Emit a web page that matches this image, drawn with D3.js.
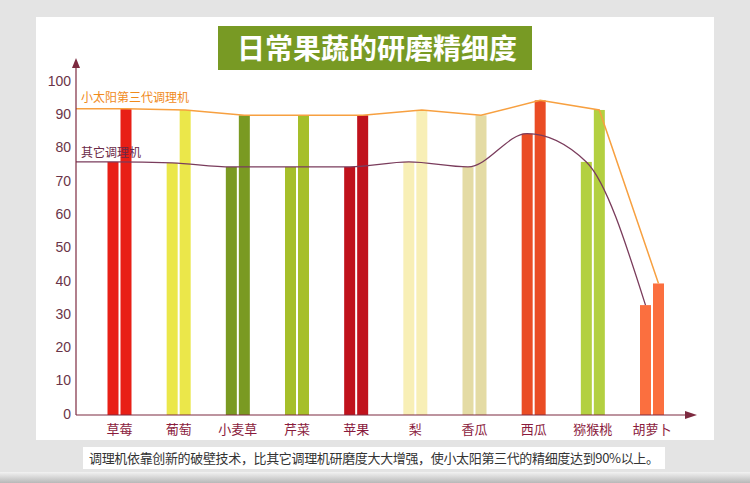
<!DOCTYPE html>
<html>
<head>
<meta charset="utf-8">
<script src="https://cdn.jsdelivr.net/npm/d3@7"></script>
<style>
  body { margin: 0; background: #e4e4e4; }
  svg { display: block; }
</style>
</head>
<body>
<svg id="chart" width="750" height="483"></svg>
<script>
// data
const categories = ["草莓", "葡萄", "小麦草", "芹菜", "苹果", "梨", "香瓜", "西瓜", "猕猴桃", "胡萝卜"];
const otherValues = [76, 75.7, 74.5, 74.5, 74.5, 76, 74.5, 84.5, 76, 33];
const sunValues = [92, 91.6, 90, 90, 90, 91.6, 90, 94.5, 91.6, 39.5];
const barColors = ["#e81f16", "#ebe74a", "#7a9a22", "#a6bf2a", "#c0121c", "#f8efb6", "#e4dba4", "#ea4c24", "#b3d041", "#fb6f3f"];
const yTicks = [0, 10, 20, 30, 40, 50, 60, 70, 80, 90, 100];
const title = "日常果蔬的研磨精细度";
const sunLabel = "小太阳第三代调理机";
const otherLabel = "其它调理机";
const caption = "调理机依靠创新的破壁技术，比其它调理机研磨度大大增强，使小太阳第三代的精细度达到90%以上。";

const cjk = "'Noto Sans CJK SC', 'Noto Sans', sans-serif";
const axisColor = "#7d2a40";
const orange = "#f7a040";
const purple = "#7a3c5c";

let svg = d3.select("#chart");

// bottom strip
let defs = svg.append("defs");
let grad = defs.append("linearGradient").attr("id", "strip").attr("x1", 0).attr("x2", 0).attr("y1", 0).attr("y2", 1);
grad.append("stop").attr("offset", "0%").attr("stop-color", "#f2f2f2");
grad.append("stop").attr("offset", "100%").attr("stop-color", "#b8b8b8");
svg.append("rect").attr("x", 0).attr("y", 472).attr("width", 750).attr("height", 11).style("fill", "url(#strip)");

// white panel
svg.append("rect").attr("x", 36).attr("y", 17).attr("width", 678).attr("height", 423).style("fill", "#ffffff");

// title box
svg.append("rect").attr("x", 218).attr("y", 26).attr("width", 314).attr("height", 44).style("fill", "#789a24");
svg.append("text")
  .attr("x", 377).attr("y", 59)
  .text(title)
  .style("text-anchor", "middle")
  .style("font-family", cjk)
  .style("font-weight", "bold")
  .style("font-size", "28px")
  .style("fill", "#ffffff");

// scales
let x = d3.scalePoint()
  .domain(categories)
  .range([119.5, 652]);

let y = d3.scaleLinear()
  .domain([0, 100])
  .range([415, 82]);

let barWidth = 11;
let barGap = 2;

// bars: other machine on the left, sun machine on the right
svg.selectAll(".otherBar")
  .data(categories)
  .enter()
  .append("rect")
  .attr("x", d => x(d) - barGap / 2 - barWidth)
  .attr("y", (d, i) => y(otherValues[i]))
  .attr("width", barWidth)
  .attr("height", (d, i) => y(0) - y(otherValues[i]))
  .style("fill", (d, i) => barColors[i]);

svg.selectAll(".sunBar")
  .data(categories)
  .enter()
  .append("rect")
  .attr("x", d => x(d) + barGap / 2)
  .attr("y", (d, i) => y(sunValues[i]))
  .attr("width", barWidth)
  .attr("height", (d, i) => y(0) - y(sunValues[i]))
  .style("fill", (d, i) => barColors[i]);

// lines
let axisX = 76;
let sunPoints = [[axisX, y(sunValues[0])]].concat(categories.map((d, i) => [x(d) + barGap / 2 + barWidth / 2, y(sunValues[i])]));
let otherPoints = [[axisX, y(otherValues[0])]].concat(categories.map((d, i) => [x(d) - barGap / 2 - barWidth / 2, y(otherValues[i])]));

svg.append("path")
  .attr("d", d3.line()(sunPoints))
  .style("fill", "none")
  .style("stroke", orange)
  .style("stroke-width", 1.5);

svg.append("path")
  .attr("d", d3.line().curve(d3.curveMonotoneX)(otherPoints))
  .style("fill", "none")
  .style("stroke", purple)
  .style("stroke-width", 1.3);

svg.append("text").attr("x", 81).attr("y", 102).text(sunLabel)
  .style("font-family", cjk).style("font-size", "12px").style("fill", "#f08a1c");
svg.append("text").attr("x", 81).attr("y", 157).text(otherLabel)
  .style("font-family", cjk).style("font-size", "12px").style("fill", "#6a2a48");

// axes
svg.append("line").attr("x1", axisX).attr("x2", axisX).attr("y1", y(0)).attr("y2", 66)
  .style("stroke", axisColor).style("stroke-width", 1.2);
svg.append("path").attr("d", "M" + axisX + ",58 L" + (axisX - 4) + ",68 L" + (axisX + 4) + ",68 Z")
  .style("fill", axisColor);
svg.append("line").attr("x1", axisX).attr("x2", 688).attr("y1", y(0)).attr("y2", y(0))
  .style("stroke", axisColor).style("stroke-width", 1.2);
svg.append("path").attr("d", "M697," + y(0) + " L685," + (y(0) - 4) + " L685," + (y(0) + 4) + " Z")
  .style("fill", axisColor);

svg.selectAll(".yTick")
  .data(yTicks)
  .enter()
  .append("text")
  .attr("x", 71)
  .attr("y", d => y(d))
  .text(d => d)
  .style("text-anchor", "end")
  .style("dominant-baseline", "middle")
  .style("font-family", "'Liberation Sans', Arial, sans-serif")
  .style("font-size", "14px")
  .style("fill", "#6a3448");

svg.selectAll(".xLabel")
  .data(categories)
  .enter()
  .append("text")
  .attr("x", d => x(d))
  .attr("y", 434)
  .text(d => d)
  .style("text-anchor", "middle")
  .style("font-family", cjk)
  .style("font-size", "13px")
  .style("fill", "#8a1a3c");

// caption
svg.append("rect").attr("x", 83).attr("y", 447).attr("width", 582).attr("height", 22).style("fill", "#ffffff");
svg.append("text")
  .attr("x", 89).attr("y", 463)
  .text(caption)
  .attr("textLength", 570)
  .style("font-family", cjk)
  .style("font-size", "13px")
  .style("fill", "#333333");
</script>
</body>
</html>
